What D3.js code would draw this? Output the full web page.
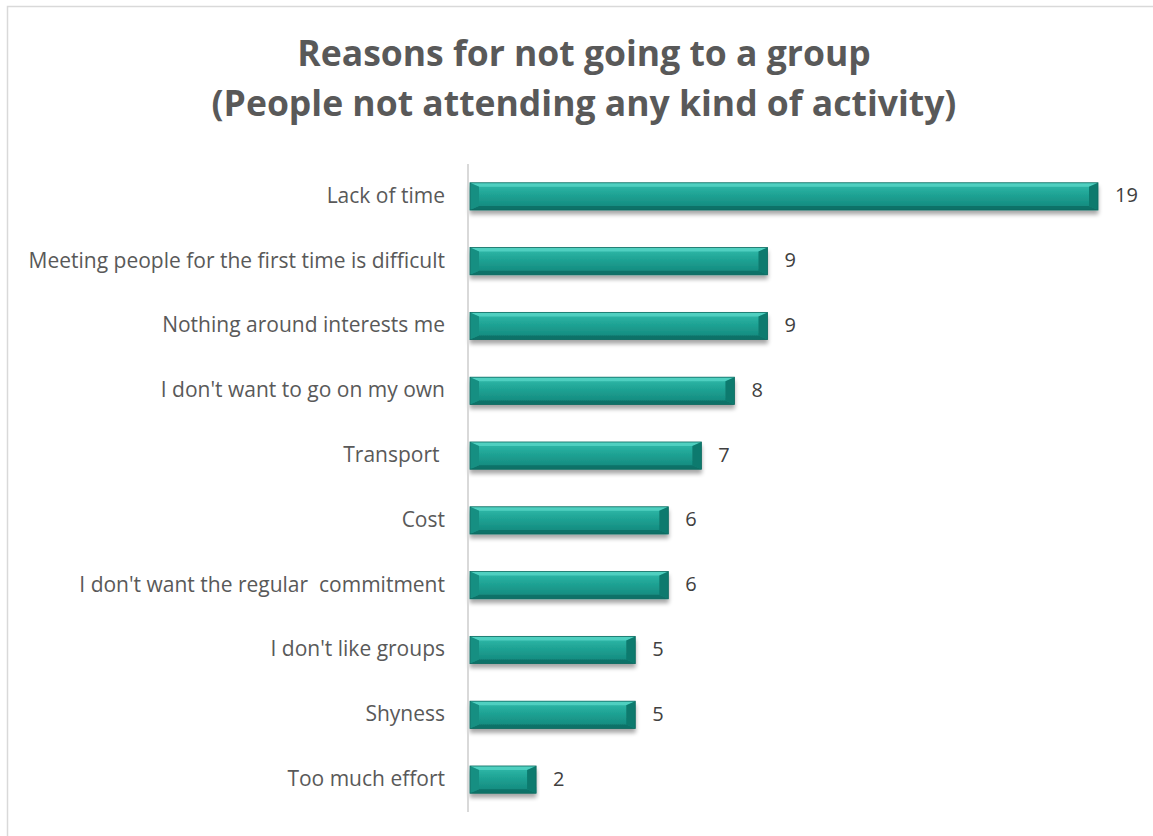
<!DOCTYPE html>
<html>
<head>
<meta charset="utf-8">
<script src="https://cdn.jsdelivr.net/npm/d3@7"></script>
<style>
  html, body { margin: 0; padding: 0; background: #fff; }
  svg { display: block; }
</style>
</head>
<body>
<svg id="chart" width="1153" height="836"></svg>
<script>
// Survey responses: reasons given for not going to a group
const categories = [
  "Lack of time",
  "Meeting people for the first time is difficult",
  "Nothing around interests me",
  "I don't want to go on my own",
  "Transport ",
  "Cost",
  "I don't want the regular  commitment",
  "I don't like groups",
  "Shyness",
  "Too much effort"
];
const counts = [19, 9, 9, 8, 7, 6, 6, 5, 5, 2];
const titleLines = [
  "Reasons for not going to a group",
  "(People not attending any kind of activity)"
];

const svg = d3.select("#chart");
const W = 1153, H = 836;
const font = "'Open Sans', Lato, sans-serif";

// chart frame
svg.append("rect")
  .attr("x", 7.5).attr("y", 6.5)
  .attr("width", W + 10).attr("height", H + 10)
  .attr("fill", "#fff").attr("stroke", "#d9d9d9").attr("stroke-width", 1.5);

const defs = svg.append("defs");
const grad = defs.append("linearGradient").attr("id", "barFill")
  .attr("x1", 0).attr("y1", 0).attr("x2", 0).attr("y2", 1);
[[0, "#33bcac"], [0.4, "#20a596"], [1, "#12857a"]].forEach(([o, c]) =>
  grad.append("stop").attr("offset", o).attr("stop-color", c));

const shadow = defs.append("filter").attr("id", "barShadow")
  .attr("x", "-5%").attr("y", "-30%").attr("width", "110%").attr("height", "180%");
shadow.append("feGaussianBlur").attr("in", "SourceAlpha").attr("stdDeviation", 2.2).attr("result", "b");
shadow.append("feOffset").attr("in", "b").attr("dx", 0).attr("dy", 4).attr("result", "o");
shadow.append("feComponentTransfer").attr("in", "o").attr("result", "s")
  .append("feFuncA").attr("type", "linear").attr("slope", 0.35);
const merge = shadow.append("feMerge");
merge.append("feMergeNode").attr("in", "s");
merge.append("feMergeNode").attr("in", "SourceGraphic");

const x = d3.scaleLinear().domain([0, 19]).range([470, 1098]);
const y = d3.scaleBand().domain(categories).range([164, 812]).paddingInner(0.58).paddingOuter(0.29);

// title
svg.append("g").selectAll("text").data(titleLines).join("text")
  .attr("x", 584).attr("y", (d, i) => 66 + i * 50)
  .attr("text-anchor", "middle")
  .attr("font-family", font).attr("font-weight", "bold")
  .attr("font-size", 35.5).attr("fill", "#595959")
  .text(d => d);

// bars with bevelled faces
const bars = svg.append("g").selectAll("g").data(counts).join("g")
  .attr("filter", "url(#barShadow)");

bars.each(function(v, i) {
  const g = d3.select(this);
  const bx = x(0), bw = x(v) - x(0);
  const by = y(categories[i]), bh = y.bandwidth();
  const bv = Math.min(9, bw / 2), bt = 4;
  g.append("rect").attr("x", bx).attr("y", by).attr("width", bw).attr("height", bh)
    .attr("fill", "url(#barFill)");
  // top face
  g.append("path").attr("d", `M${bx},${by}L${bx + bw},${by}L${bx + bw - bv},${by + bt}L${bx + bv},${by + bt}Z`)
    .attr("fill", "#55d4c4").attr("opacity", 0.85);
  // bottom face
  g.append("path").attr("d", `M${bx},${by + bh}L${bx + bw},${by + bh}L${bx + bw - bv},${by + bh - bt}L${bx + bv},${by + bh - bt}Z`)
    .attr("fill", "#0e6f65").attr("opacity", 0.9);
  // left face
  g.append("path").attr("d", `M${bx},${by}L${bx + bv},${by + bt}L${bx + bv},${by + bh - bt}L${bx},${by + bh}Z`)
    .attr("fill", "#178f82");
  // right face
  g.append("path").attr("d", `M${bx + bw},${by}L${bx + bw - bv},${by + bt}L${bx + bw - bv},${by + bh - bt}L${bx + bw},${by + bh}Z`)
    .attr("fill", "#0f7a6e");
  g.append("rect").attr("x", bx).attr("y", by).attr("width", bw).attr("height", bh)
    .attr("fill", "none").attr("stroke", "#0d6a60").attr("stroke-width", 0.8);
});

// category axis line
svg.append("line")
  .attr("x1", 468).attr("x2", 468).attr("y1", 164).attr("y2", 812)
  .attr("stroke", "#d9d9d9").attr("stroke-width", 2);

// category labels
svg.append("g").selectAll("text").data(categories).join("text")
  .attr("x", 445).attr("y", d => y(d) + y.bandwidth() / 2)
  .attr("dy", "0.3em").attr("text-anchor", "end")
  .attr("font-family", font).attr("font-size", 21).attr("fill", "#595959")
  .style("white-space", "pre")
  .text(d => d);

// value labels
svg.append("g").selectAll("text").data(counts).join("text")
  .attr("x", d => x(d) + 17).attr("y", (d, i) => y(categories[i]) + y.bandwidth() / 2)
  .attr("dy", "0.3em")
  .attr("font-family", font).attr("font-size", 20).attr("fill", "#404040")
  .text(d => d);
</script>
</body>
</html>
